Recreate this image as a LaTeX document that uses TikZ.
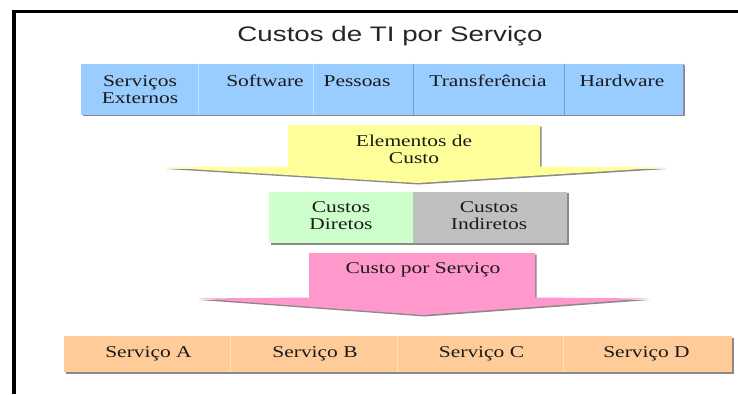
\documentclass[tikz,border=0pt]{standalone}
\usepackage{fontspec}
\setmainfont{Liberation Serif}[FakeStretch=1.3]
\newfontfamily\titlefont{Liberation Sans}[FakeStretch=1.32]
\usetikzlibrary{shadows}
\definecolor{cblue}{HTML}{99CCFF}
\definecolor{cblueline}{HTML}{C4E0FF}
\definecolor{cbluedark}{HTML}{7A98B8}
\definecolor{cyellow}{HTML}{FFFF99}
\definecolor{cgreen}{HTML}{CCFFCC}
\definecolor{cgray}{HTML}{C0C0C0}
\definecolor{cpink}{HTML}{FF99CC}
\definecolor{corange}{HTML}{FFCC99}
\definecolor{corangeline}{HTML}{FFE2C4}
\definecolor{cshadow}{HTML}{8A8A8A}
\definecolor{ctext}{HTML}{1A1A1A}
\begin{document}
\begin{tikzpicture}[x=1pt,y=-1pt,
  cell/.style={rectangle, inner sep=0pt, outer sep=0pt, anchor=north west,
    general shadow={fill=cshadow, shadow xshift=1.5pt, shadow yshift=-1.5pt}},
  lbl/.style={inner sep=0pt, outer sep=0pt, anchor=base, text=ctext,
    font=\fontsize{16.5}{17}\selectfont},
  arrowshadow/.style={fill=cshadow},
]
\useasboundingbox (0,0) rectangle (738,394);
\fill[white] (0,0) rectangle (738,394);
% frame
\draw[line width=3.3pt] (12,11.7) -- (738,11.7);
\draw[line width=4pt] (14,10) -- (14,394);
% title
\node[inner sep=0pt, anchor=base, text=black!85, font=\titlefont\fontsize{21}{25}\selectfont] (title) at (390,41) {Custos de TI por Serviço};
% blue bar
\node[cell, fill=cblue, minimum width=117pt, minimum height=51pt] (b1) at (81,63.5) {};
\node[cell, fill=cblue, minimum width=115pt, minimum height=51pt] (b2) at (198,63.5) {};
\node[cell, fill=cblue, minimum width=100pt, minimum height=51pt] (b3) at (313,63.5) {};
\node[cell, fill=cblue, minimum width=151pt, minimum height=51pt] (b4) at (413,63.5) {};
\node[cell, fill=cblue, minimum width=119pt, minimum height=51pt] (b5) at (564,63.5) {};
\draw[cblueline, line width=0.8pt] (b2.north west) -- (b2.south west);
\draw[cblueline, line width=0.8pt] (b3.north west) -- (b3.south west);
\draw[cbluedark, line width=0.8pt] (b4.north west) -- (b4.south west);
\draw[cbluedark, line width=0.8pt] (b5.north west) -- (b5.south west);
\draw[cbluedark, line width=0.8pt] (b5.north east) -- (b5.south east);
\node[lbl] (t1) at (140,86.5) {\begin{tabular}[t]{@{}c@{}}Serviços\\Externos\end{tabular}};
\node[lbl] (t2) at (265,86.5) {Software};
\node[lbl] (t3) at (357,86.5) {Pessoas};
\node[lbl] (t4) at (488,86.5) {Transferência};
\node[lbl] (t5) at (622,86.5) {Hardware};
% yellow arrow
\fill[arrowshadow] (289.5,126.5) -- (541.5,126.5) -- (541.5,168) -- (666.5,169) -- (418.5,184.5) -- (166.5,169) -- (289.5,168) -- cycle;
\fill[cyellow] (288,125) -- (540,125) -- (540,166.5) -- (665,167.5) -- (417,183) -- (165,167.5) -- (288,166.5) -- cycle;
\node[lbl] (ya) at (414,146) {\begin{tabular}[t]{@{}c@{}}Elementos de\\Custo\end{tabular}};
% green / gray
\node[cell, fill=cgreen, minimum width=144pt, minimum height=51.5pt] (g1) at (269,191.5) {};
\node[cell, fill=cgray, minimum width=154pt, minimum height=51.5pt] (g2) at (413,191.5) {};
\node[lbl] (gt1) at (341,212.5) {\begin{tabular}[t]{@{}c@{}}Custos\\Diretos\end{tabular}};
\node[lbl] (gt2) at (489,212.5) {\begin{tabular}[t]{@{}c@{}}Custos\\Indiretos\end{tabular}};
% pink arrow
\fill[arrowshadow] (310.5,254.5) -- (536.5,254.5) -- (536.5,299) -- (649.5,300) -- (424.5,316.5) -- (199.5,300) -- (310.5,299) -- cycle;
\fill[cpink] (309,253) -- (535,253) -- (535,297.5) -- (648,298.5) -- (423,315) -- (198,298.5) -- (309,297.5) -- cycle;
\node[lbl] (pa) at (423,273) {Custo por Serviço};
% orange bar
\node[cell, fill=corange, minimum width=166pt, minimum height=36pt] (o1) at (64,336) {};
\node[cell, fill=corange, minimum width=167pt, minimum height=36pt] (o2) at (230,336) {};
\node[cell, fill=corange, minimum width=166pt, minimum height=36pt] (o3) at (397,336) {};
\node[cell, fill=corange, minimum width=169pt, minimum height=36pt] (o4) at (563,336) {};
\draw[corangeline, line width=0.8pt] (o2.north west) -- (o2.south west);
\draw[corangeline, line width=0.8pt] (o3.north west) -- (o3.south west);
\draw[corangeline, line width=0.8pt] (o4.north west) -- (o4.south west);
\node[lbl] (s1) at (148.5,357) {Serviço A};
\node[lbl] (s2) at (315,357) {Serviço B};
\node[lbl] (s3) at (481.5,357) {Serviço C};
\node[lbl] (s4) at (646.5,357) {Serviço D};
\end{tikzpicture}
\end{document}
